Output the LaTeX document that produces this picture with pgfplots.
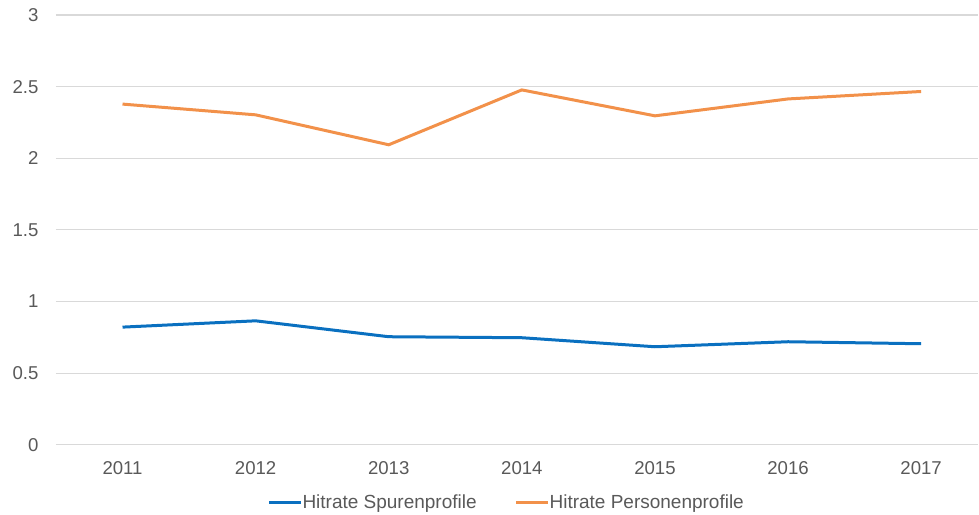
\documentclass[border=0pt]{standalone}
\usepackage{pgfplots}
\pgfplotsset{compat=1.18}
\usepackage{fontspec}
\setmainfont{Liberation Sans}
\definecolor{cblue}{HTML}{0A70C0}
\definecolor{corange}{HTML}{F2914A}
\definecolor{cgrid}{HTML}{D9D9D9}
\definecolor{ctext}{HTML}{595959}
\begin{document}
\begin{tikzpicture}
\fontsize{9.2}{11}\selectfont
\begin{axis}[
  name=ax,
  scale only axis,
  width=461.5pt, height=215pt,
  xmin=-0.5, xmax=6.43,
  ymin=0, ymax=3,
  xtick={0,1,2,3,4,5,6},
  xticklabels={2011,2012,2013,2014,2015,2016,2017},
  ytick={0,0.5,1,1.5,2,2.5,3},
  /pgf/number format/assume math mode=true,
  axis line style={draw=none},
  major tick length=0pt,
  ymajorgrids,
  grid style={cgrid, line width=0.6pt},
  ticklabel style={font=\fontsize{9.3}{11}\selectfont, text=ctext},
  yticklabel style={xshift=-5.5pt},
  xticklabel style={yshift=-5pt},
  clip=false,
  legend style={draw=none, fill=none, at={(226pt,-29pt)}, anchor=center,
    font=\fontsize{9.5}{11}\selectfont, text=ctext, inner sep=0pt,
    /tikz/every even column/.append style={column sep=17pt},
    /tikz/every odd column/.append style={column sep=-2pt}},
  legend columns=-1,
  legend image code/.code={\draw[#1, line width=1.5pt] (0pt,0pt) -- (16pt,0pt);},
]
\addplot[cblue, line width=1.5pt, mark=none] coordinates {
  (0,0.821) (1,0.865) (2,0.754) (3,0.747) (4,0.684) (5,0.719) (6,0.705)};
\addlegendentry{Hitrate Spurenprofile}
\addplot[corange, line width=1.5pt, mark=none] coordinates {
  (0,2.378) (1,2.303) (2,2.094) (3,2.477) (4,2.296) (5,2.414) (6,2.466)};
\addlegendentry{Hitrate Personenprofile}
\end{axis}
\path[use as bounding box] ([xshift=-28pt,yshift=-35pt]ax.south west) rectangle ([yshift=7.5pt]ax.north east);
\end{tikzpicture}
\end{document}
